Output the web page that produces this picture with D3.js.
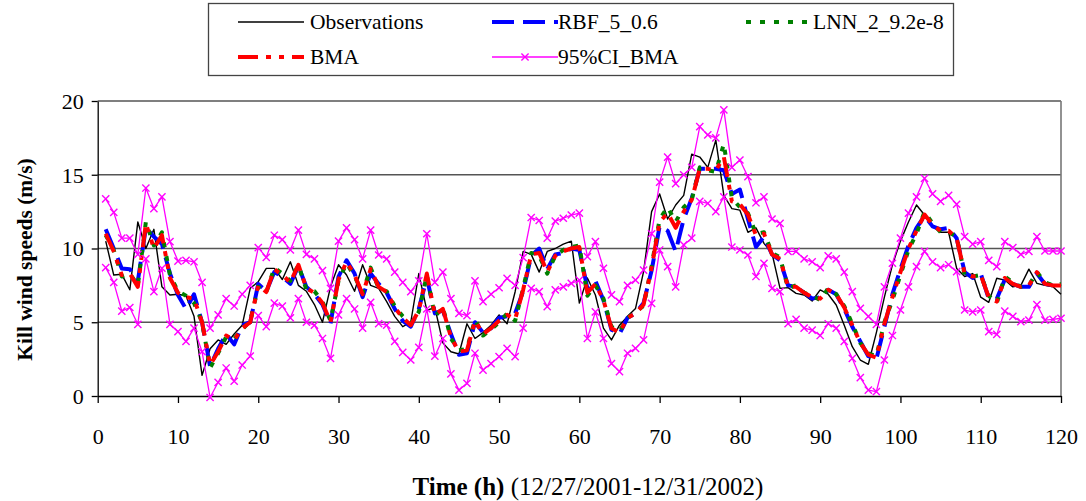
<!DOCTYPE html>
<html>
<head>
<meta charset="utf-8">
<script src="https://cdn.jsdelivr.net/npm/d3@7"></script>
<style>
  html, body { margin: 0; padding: 0; background: #fff; }
  svg { display: block; }
  text { font-family: "Liberation Serif", "Times New Roman", serif; fill: #000; }
</style>
</head>
<body>
<svg id="chart" width="1086" height="501"></svg>
<script>
// Hourly wind speed at Kill: observations, model forecasts and BMA 95% interval
const hours = d3.range(1, 121);

const observations = [
  10.5, 8.2, 8.25, 7.2, 11.8, 10.0, 11.3, 7.4, 6.85, 6.9,
  6.8, 5.4, 1.4, 3.2, 3.8, 3.5, 4.2, 4.8, 7.3, 7.75,
  8.65, 8.65, 7.9, 9.1, 7.5, 7.1, 6.2, 5.0, 7.4, 8.9,
  8.2, 7.1, 8.9, 7.5, 7.3, 6.4, 5.4, 4.7, 5.0, 8.3,
  5.8, 6.0, 3.6, 3.0, 2.85, 4.9, 3.9, 4.3, 4.8, 5.5,
  4.9, 7.07, 9.8, 9.6, 8.4, 9.8, 10.0, 10.3, 10.5, 6.3,
  8.0, 6.85, 4.6, 3.8, 4.8, 5.4, 5.94, 8.43, 12.5, 13.7,
  12.0, 12.95, 13.6, 16.4, 16.2, 15.5, 17.35, 13.6, 12.7, 12.6,
  11.1, 11.4, 10.35, 9.67, 7.3, 7.35, 6.96, 6.85, 6.44, 7.19,
  6.9, 6.17, 4.8, 3.34, 2.44, 2.15, 4.3, 6.7, 8.9, 10.5,
  11.8, 12.95, 12.27, 11.5, 11.1, 11.1, 8.65, 8.1, 8.3, 6.7,
  6.35, 7.98, 7.86, 7.4, 7.5, 8.6, 7.64, 7.5, 7.4, 6.9
];

const rbf = [
  11.3, 10.0, 8.65, 8.6, 7.8, 11.4, 10.8, 10.3, 8.3, 6.85,
  5.9, 6.9, 5.0, 2.0, 3.2, 4.2, 3.5, 4.8, 5.0, 7.6,
  7.1, 8.4, 8.1, 7.6, 8.8, 7.4, 6.9, 6.2, 4.9, 8.1,
  9.2, 8.3, 6.7, 8.3, 7.6, 7.0, 5.9, 5.1, 4.7, 5.9,
  8.0, 5.6, 5.8, 4.2, 2.8, 2.9, 5.0, 4.3, 4.6, 5.3,
  5.4, 5.6, 7.1, 9.5, 10.0, 8.6, 9.6, 9.7, 10.0, 9.9,
  7.3, 7.8, 6.5, 4.5, 4.2, 5.3, 5.6, 6.3, 8.5, 11.5,
  11.2, 9.8, 12.0, 13.4, 15.4, 15.4, 15.4, 15.3, 13.7, 14.0,
  12.0, 10.1, 10.8, 9.6, 9.2, 7.5, 7.4, 7.0, 6.6, 6.7,
  7.2, 6.9, 5.9, 4.7, 3.7, 2.7, 2.5, 4.7, 6.9, 8.6,
  10.2, 11.4, 12.2, 11.5, 11.3, 11.4, 10.7, 8.4, 8.0, 8.3,
  6.6, 6.6, 7.9, 7.6, 7.4, 7.4, 8.3, 7.6, 7.5, 7.5
];

const lnn = [
  10.9, 9.9, 8.1, 8.3, 7.5, 11.8, 10.2, 11.1, 8.2, 7.1,
  6.8, 6.3, 5.0, 1.9, 2.9, 4.0, 3.9, 4.5, 5.1, 7.4,
  7.0, 8.7, 8.3, 7.8, 8.9, 7.2, 7.1, 6.4, 5.1, 7.8,
  9.0, 8.1, 7.0, 8.7, 7.3, 7.1, 6.1, 5.4, 4.9, 5.7,
  8.2, 5.4, 6.0, 3.9, 3.1, 3.2, 5.2, 4.1, 4.5, 5.0,
  5.6, 5.1, 7.3, 9.7, 9.5, 8.3, 9.5, 9.9, 10.1, 10.2,
  6.8, 7.5, 6.6, 4.7, 4.4, 5.3, 5.7, 6.1, 8.8, 12.0,
  12.8, 11.8, 12.8, 13.3, 15.5, 15.3, 15.2, 17.1, 13.4, 12.8,
  12.4, 11.0, 11.1, 9.7, 9.4, 7.3, 7.5, 7.0, 6.8, 6.5,
  7.3, 6.9, 6.1, 4.9, 3.6, 2.9, 2.7, 5.0, 6.5, 8.2,
  9.9, 11.0, 12.5, 11.7, 11.1, 11.1, 10.8, 8.2, 8.1, 8.2,
  6.8, 6.3, 8.1, 7.7, 7.4, 7.5, 8.4, 7.7, 7.5, 7.6
];

const bma = [
  11.0, 9.8, 8.2, 8.3, 7.4, 11.7, 10.0, 10.9, 8.0, 7.0,
  6.7, 6.6, 5.0, 2.1, 3.0, 4.1, 3.8, 4.6, 5.0, 7.5,
  7.05, 8.6, 8.2, 7.7, 8.9, 7.3, 7.0, 6.3, 5.0, 7.9,
  9.1, 8.2, 6.9, 8.6, 7.4, 7.05, 6.0, 5.3, 4.8, 5.8,
  8.3, 5.5, 5.9, 4.0, 3.0, 3.1, 5.1, 4.2, 4.6, 5.1,
  5.5, 5.2, 7.2, 9.6, 9.7, 8.4, 9.5, 9.8, 10.0, 10.1,
  7.0, 7.6, 6.5, 4.6, 4.3, 5.3, 5.6, 6.2, 8.7, 11.8,
  12.4, 11.4, 12.5, 13.3, 15.4, 15.4, 15.3, 16.2, 13.2, 13.0,
  12.3, 10.9, 11.0, 9.6, 9.3, 7.4, 7.4, 7.0, 6.7, 6.6,
  7.2, 6.9, 6.0, 4.8, 3.6, 2.8, 2.6, 4.9, 6.7, 8.4,
  10.0, 11.2, 12.3, 11.6, 11.2, 11.2, 10.7, 8.3, 8.1, 8.2,
  6.7, 6.4, 8.0, 7.6, 7.4, 7.5, 8.4, 7.6, 7.5, 7.5
];

const ciUpper = [
  13.36, 12.45, 10.7, 10.7, 9.6, 14.1, 12.7, 13.5, 10.46, 9.15,
  9.2, 9.1, 7.7, 4.6, 5.5, 6.6, 6.1, 6.9, 7.5, 10.06,
  9.4, 10.9, 10.6, 9.9, 11.25, 9.6, 9.3, 8.5, 7.3, 10.5,
  11.4, 10.6, 9.3, 11.25, 9.56, 9.3, 8.4, 7.7, 7.07, 7.8,
  11.0, 7.7, 8.4, 6.6, 5.6, 5.45, 7.8, 6.4, 6.9, 7.34,
  7.98, 7.5, 9.38, 12.1, 11.9, 10.7, 11.86, 12.05, 12.27, 12.4,
  9.45, 10.46, 8.66, 6.85, 6.4, 7.5, 7.86, 8.54, 11.0, 14.5,
  16.2, 14.4, 15.0, 15.5, 18.26, 17.7, 17.5, 19.4, 15.5, 16.0,
  14.87, 13.1, 13.5, 12.0, 11.7, 9.8, 9.8, 9.3, 9.1, 8.7,
  9.5, 9.3, 8.4, 7.07, 5.94, 5.4, 4.86, 7.4, 9.0, 10.7,
  12.4, 13.5, 14.75, 13.7, 13.2, 13.6, 13.0, 10.8, 10.3, 10.46,
  9.2, 8.77, 10.46, 10.06, 9.6, 9.8, 10.8, 9.83, 9.83, 9.83
];

const ciLower = [
  8.7, 7.7, 5.76, 6.0, 4.86, 9.3, 7.07, 8.66, 4.86, 4.36,
  3.7, 4.6, 3.0, -0.1, 0.93, 1.9, 1.0, 2.1, 2.7, 5.45,
  4.7, 6.3, 6.1, 5.3, 6.6, 5.0, 4.8, 3.9, 2.55, 5.5,
  6.6, 5.9, 4.6, 6.35, 4.9, 4.8, 3.7, 2.96, 2.44, 3.3,
  5.9, 2.7, 3.9, 1.5, 0.4, 0.86, 2.9, 1.76, 2.2, 2.67,
  3.23, 2.67, 4.6, 7.3, 7.07, 6.06, 7.2, 7.4, 7.64, 7.86,
  3.9, 5.7, 3.9, 2.2, 1.65, 2.9, 3.23, 3.8, 6.28, 9.9,
  8.77, 7.4, 10.24, 10.7, 13.2, 13.06, 12.5, 13.5, 10.1, 9.9,
  9.56, 8.1, 9.0, 7.3, 7.07, 4.9, 5.2, 4.6, 4.47, 4.1,
  4.9, 4.6, 3.7, 2.55, 1.24, 0.4, 0.3, 2.44, 4.1, 5.83,
  7.4, 8.77, 9.8, 9.1, 8.7, 8.9, 8.43, 5.83, 5.7, 5.83,
  4.36, 4.18, 5.76, 5.4, 5.04, 5.15, 6.2, 5.15, 5.2, 5.27
];

const xTicks = d3.range(0, 121, 10);
const yTicks = [0, 5, 10, 15, 20];

const svg = d3.select("#chart");
const plot = { left: 97.7, right: 1061, top: 101, bottom: 396 };

const x = d3.scaleLinear().domain([0, 120]).range([plot.left, plot.right]);
const y = d3.scaleLinear().domain([0, 20]).range([plot.bottom, plot.top]);

// horizontal gridlines and right frame
svg.append("g").selectAll("line").data(yTicks.filter(d => d > 0)).join("line")
  .attr("x1", plot.left).attr("x2", plot.right)
  .attr("y1", d => y(d)).attr("y2", d => y(d))
  .attr("stroke", "#555").attr("stroke-width", 1.3);
svg.append("line")
  .attr("x1", plot.right).attr("x2", plot.right)
  .attr("y1", plot.top).attr("y2", plot.bottom)
  .attr("stroke", "#777").attr("stroke-width", 1.6);

// axes
const xAxis = svg.append("g").attr("transform", `translate(0,${plot.bottom})`)
  .call(d3.axisBottom(x).tickValues(xTicks).tickSizeInner(7).tickSizeOuter(0).tickPadding(25));
const yAxis = svg.append("g").attr("transform", `translate(${plot.left},0)`)
  .call(d3.axisLeft(y).tickValues(yTicks).tickSizeInner(6).tickSizeOuter(0).tickPadding(8));
[xAxis, yAxis].forEach(g => {
  g.select(".domain").attr("stroke", "#000").attr("stroke-width", 1.3);
  g.selectAll(".tick line").attr("stroke", "#000").attr("stroke-width", 1.3);
  g.selectAll(".tick text")
    .attr("font-family", "Liberation Serif, Times New Roman, serif")
    .attr("font-size", 22).attr("fill", "#000");
});
yAxis.selectAll(".tick text").attr("dy", "0.34em");

// axis titles
svg.append("text")
  .attr("transform", `translate(32,${(plot.top + plot.bottom) / 2 + 11}) rotate(-90)`)
  .attr("text-anchor", "middle")
  .attr("font-size", 21.5).attr("font-weight", "bold")
  .text("Kill wind speeds (m/s)");
const xt = svg.append("text")
  .attr("x", 588).attr("y", 495)
  .attr("text-anchor", "middle")
  .attr("font-size", 25);
xt.append("tspan").attr("font-weight", "bold").text("Time (h)");
xt.append("tspan").text(" (12/27/2001-12/31/2002)");

// series styles
const styles = {
  obs:   { color: "#000000", width: 1.4, dash: null },
  rbf:   { color: "#0000ff", width: 4,   dash: "22,9" },
  lnn:   { color: "#008000", width: 4,   dash: "5,9" },
  bma:   { color: "#ff0000", width: 4,   dash: "20,8,5,8,5,8" },
  ci:    { color: "#ff00ff", width: 1.3, dash: null }
};

const line = d3.line().x((d, i) => x(hours[i])).y(d => y(d));

function drawSeries(values, st) {
  svg.append("path")
    .datum(values)
    .attr("fill", "none")
    .attr("stroke", st.color)
    .attr("stroke-width", st.width)
    .attr("stroke-dasharray", st.dash)
    .attr("stroke-linejoin", "round")
    .attr("d", line);
}

function drawCross(g, cx, cy, r, color) {
  g.append("path")
    .attr("d", `M${cx - r},${cy - r}L${cx + r},${cy + r}M${cx - r},${cy + r}L${cx + r},${cy - r}`)
    .attr("stroke", color).attr("stroke-width", 1.4).attr("fill", "none");
}

drawSeries(observations, styles.obs);
drawSeries(rbf, styles.rbf);
drawSeries(lnn, styles.lnn);
drawSeries(bma, styles.bma);

[ciUpper, ciLower].forEach(vals => {
  drawSeries(vals, styles.ci);
  const g = svg.append("g");
  vals.forEach((v, i) => drawCross(g, x(hours[i]), y(v), 3.6, styles.ci.color));
});

// legend
const legend = svg.append("g");
legend.append("rect")
  .attr("x", 208.5).attr("y", 3.5).attr("width", 745).attr("height", 72)
  .attr("fill", "#fff").attr("stroke", "#444").attr("stroke-width", 1.3);

const legendItems = [
  { label: "Observations", st: styles.obs, lx: 238, tx: 310, ly: 22 },
  { label: "RBF_5_0.6",    st: styles.rbf, lx: 492, tx: 558, ly: 22 },
  { label: "LNN_2_9.2e-8", st: styles.lnn, lx: 746, tx: 813, ly: 22 },
  { label: "BMA",          st: styles.bma, lx: 238, tx: 310, ly: 57 },
  { label: "95%CI_BMA",    st: styles.ci,  lx: 492, tx: 558, ly: 57, marker: true }
];
legendItems.forEach(it => {
  legend.append("line")
    .attr("x1", it.lx).attr("x2", it.lx + 66)
    .attr("y1", it.ly).attr("y2", it.ly)
    .attr("stroke", it.st.color).attr("stroke-width", it.st.width)
    .attr("stroke-dasharray", it.st.dash);
  if (it.marker) drawCross(legend, it.lx + 33, it.ly, 3.6, it.st.color);
  legend.append("text")
    .attr("x", it.tx).attr("y", it.ly + 7)
    .attr("font-size", 21.5)
    .text(it.label);
});
</script>
</body>
</html>
